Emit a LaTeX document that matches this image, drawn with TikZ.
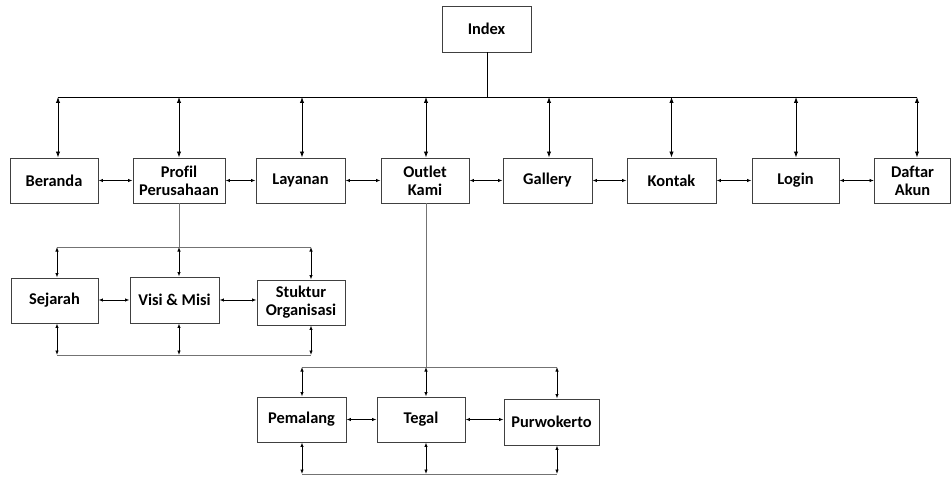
\documentclass[tikz,border=0pt]{standalone}
\usepackage{fontspec}
\setmainfont{Carlito}[Ligatures=NoCommon]
\usetikzlibrary{arrows.meta}
\begin{document}
\begin{tikzpicture}[x=1pt,y=-1pt,
  box/.style={draw=black!75, line width=0.9pt, fill=white, align=center,
    font=\fontsize{16.4}{18}\selectfont\bfseries, inner sep=1pt,
    minimum width=#1, minimum height=45pt},
  box/.default=88pt,
  dbl/.style={line width=0.9pt, {Latex[length=6pt,width=4.4pt]}-{Latex[length=6pt,width=4.4pt]}},
  sdbl/.style={line width=0.8pt, {Latex[length=4.5pt,width=3.4pt]}-{Latex[length=4.5pt,width=3.4pt]}},
  bus/.style={line width=0.9pt, draw=black},
  gbus/.style={line width=1pt, draw=black!55},
]
\useasboundingbox (0,0) rectangle (952,478);

% root
\node[box=89pt, minimum height=46pt] (index) at (486.5,29) {Index};

% first level
\node[box=88pt] (beranda) at (54,180.5) {Beranda};
\node[box=92pt] (profil)  at (179,180.5) {Profil\\Perusahaan};
\node[box=89pt] (layanan) at (300.5,180.5) {Layanan};
\node[box=88pt] (outlet)  at (425,180.5) {Outlet\\Kami};
\node[box=89pt] (gallery) at (547.5,180.5) {Gallery};
\node[box=89pt] (kontak)  at (671.5,180.5) {Kontak};
\node[box=87pt] (login)   at (795.5,180.5) {Login};
\node[box=76pt] (daftar)  at (912.5,180.5) {Daftar\\Akun};

% company profile pages
\node[box=87pt] (sejarah) at (54.5,300.5) {Sejarah};
\node[box=89pt, minimum height=46pt] (visi) at (174.5,300) {Visi \& Misi};
\node[box=88pt] (stuktur) at (301,302.5) {Stuktur\\Organisasi};

% outlet pages
\node[box=89pt] (pemalang)   at (301.5,419.5) {Pemalang};
\node[box=88pt] (tegal)      at (421,419.5) {Tegal};
\node[box=95pt, minimum height=46pt] (purwokerto) at (551.5,422) {Purwokerto};

% bus coordinates
\coordinate (top) at (487,97);
\coordinate (subA) at (179,247);
\coordinate (subAb) at (179,355);
\coordinate (subB) at (426,367);
\coordinate (subBb) at (426,474);

% main bus
\draw[bus] (index.south -| top) -- (top);
\draw[bus] ([xshift=4pt]beranda.north |- top) -- ([xshift=4.5pt]daftar.north |- top);
\foreach \n/\s in {beranda/4pt, profil/0pt, layanan/1.5pt, outlet/1pt, gallery/1.5pt, kontak/0pt, login/0.5pt, daftar/4.5pt}
  \draw[dbl] ([xshift=\s]\n.north |- top) -- ([xshift=\s]\n.north);

% first level links
\foreach \a/\b in {beranda/profil, profil/layanan, layanan/outlet, outlet/gallery, gallery/kontak, kontak/login, login/daftar}
  \draw[sdbl] (\a.east) -- (\b.west);

% company profile branch
\draw[gbus] (profil.south) -- (subA);
\draw[gbus] ([xshift=2.5pt]sejarah.north |- subA) -- ([xshift=10pt]stuktur.north |- subA);
\draw[gbus] ([xshift=2.5pt]sejarah.south |- subAb) -- ([xshift=10pt]stuktur.south |- subAb);
\foreach \n/\s in {sejarah/2.5pt, visi/4.5pt, stuktur/10pt} {
  \draw[sdbl] ([xshift=\s]\n.north |- subA) -- ([xshift=\s]\n.north);
  \draw[sdbl] ([xshift=\s]\n.south) -- ([xshift=\s]\n.south |- subAb);
}
\draw[sdbl] (sejarah.east |- visi.center) -- (visi.west);
\draw[sdbl] (visi.east) -- (stuktur.west |- visi.center);

% outlet branch
\draw[gbus] ([xshift=1pt]outlet.south) -- (subB);
\draw[gbus] ([xshift=0.5pt]pemalang.north |- subB) -- ([xshift=5.5pt]purwokerto.north |- subB);
\draw[gbus] ([xshift=0.5pt]pemalang.south |- subBb) -- ([xshift=5.5pt]purwokerto.south |- subBb);
\foreach \n/\s in {pemalang/0.5pt, tegal/5pt, purwokerto/5.5pt} {
  \draw[sdbl] ([xshift=\s]\n.north |- subB) -- ([xshift=\s]\n.north);
  \draw[sdbl] ([xshift=\s]\n.south) -- ([xshift=\s]\n.south |- subBb);
}
\draw[sdbl] (pemalang.east) -- (tegal.west);
\draw[sdbl] (tegal.east |- pemalang.center) -- (purwokerto.west |- pemalang.center);
\end{tikzpicture}
\end{document}
